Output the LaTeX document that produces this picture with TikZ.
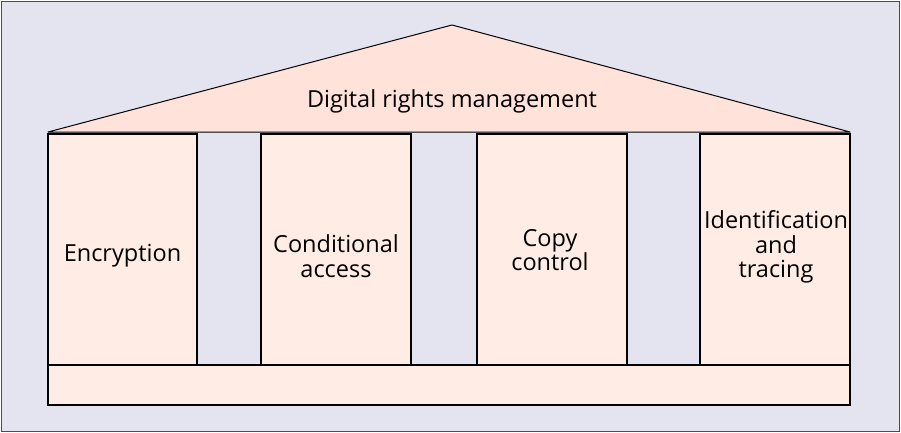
\documentclass[tikz,border=0pt]{standalone}
\usepackage{fontspec}
\setmainfont{Open Sans}
\definecolor{bgc}{HTML}{E4E4F0}
\definecolor{roofc}{HTML}{FFE3DA}
\definecolor{pillc}{HTML}{FFEDE5}
\begin{document}
\begin{tikzpicture}[x=1pt,y=-1pt,
  pillar/.style={draw=black,line width=2pt,fill=pillc},
  lbl/.style={font=\fontsize{23.5}{24.5}\selectfont,align=center,text=black,inner sep=0pt}]
\useasboundingbox (0,0) rectangle (901,433);
\fill[bgc,draw=black!70,line width=0.8pt] (1,1) rectangle (899,431);
\coordinate (rl) at (48,132);
\coordinate (rt) at (452,25);
\coordinate (rr) at (850,132);
\draw[fill=roofc,draw=black,line width=1pt,line join=round] (rl) -- (rt) -- (rr) -- cycle;
\node[lbl] (roof) at (452,101) {Digital rights management};
\draw[pillar] (48,134) rectangle (197,365);
\draw[pillar] (261,134) rectangle (411,365);
\draw[pillar] (477,134) rectangle (627,365);
\draw[pillar] (700,134) rectangle (850,365);
\draw[pillar] (48,365) rectangle (850,405);
\node[lbl] (p1) at (122.5,256) {Encryption};
\node[lbl] (p2) at (336,256) {Conditional\\access};
\node[lbl] (p3) at (550,250) {Copy\\control};
\node[lbl] (p4) at (776,247) {Identification\\and\\tracing};
\end{tikzpicture}
\end{document}
